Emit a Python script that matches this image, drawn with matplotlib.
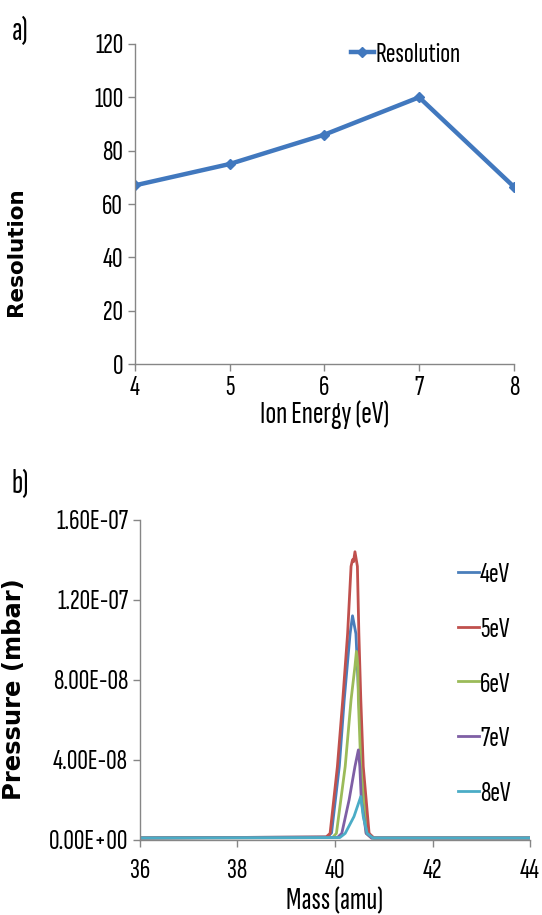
import matplotlib
matplotlib.use("Agg")
import matplotlib.pyplot as plt
from matplotlib.ticker import FuncFormatter

plt.rcParams['font.family'] = ['Sofia Sans Extra Condensed', 'DejaVu Sans']
plt.rcParams['font.weight'] = 'medium'

# panel a
energy = [4, 5, 6, 7, 8]
resolution = [67, 75, 86, 100, 66.5]

# panel b, values (pressure in units of 1e-8 mbar)
mass_4 = [36.0, 39.85, 39.93, 40.09, 40.19, 40.31, 40.36, 40.43, 40.49, 40.56, 40.66, 40.75, 44.0]
p_4 = [0.1, 0.15, 0.35, 3.7, 7.0, 10.3, 11.2, 10.3, 7.0, 3.7, 0.5, 0.1, 0.1]
mass_5 = [36.0, 39.82, 39.90, 40.05, 40.16, 40.26, 40.33, 40.36, 40.38, 40.41, 40.46, 40.49, 40.53, 40.58, 40.70, 40.80, 44.0]
p_5 = [0.1, 0.15, 0.33, 3.67, 7.0, 10.33, 13.67, 14.0, 13.9, 14.4, 13.67, 10.33, 7.0, 3.67, 0.33, 0.1, 0.1]
mass_6 = [36.0, 39.95, 40.03, 40.21, 40.33, 40.41, 40.44, 40.47, 40.48, 40.53, 40.64, 40.75, 44.0]
p_6 = [0.1, 0.12, 0.33, 3.67, 7.0, 8.67, 9.42, 8.67, 7.0, 3.67, 0.33, 0.1, 0.1]
mass_7 = [36.0, 40.05, 40.14, 40.29, 40.41, 40.48, 40.51, 40.54, 40.64, 40.75, 44.0]
p_7 = [0.1, 0.12, 0.33, 2.0, 3.67, 4.5, 3.67, 2.0, 0.33, 0.1, 0.1]
mass_8 = [36.0, 40.10, 40.21, 40.39, 40.53, 40.58, 40.66, 40.78, 44.0]
p_8 = [0.1, 0.12, 0.33, 1.17, 2.17, 1.17, 0.33, 0.1, 0.1]

labels_b = ['4eV', '5eV', '6eV', '7eV', '8eV']
colors_b = ['#4A7EBB', '#C0504D', '#9BBB59', '#7F5FA5', '#4BACC6']
masses = [mass_4, mass_5, mass_6, mass_7, mass_8]
pressures = [p_4, p_5, p_6, p_7, p_8]

grey = '#868686'
fs = 21
fig = plt.figure(figsize=(5.42, 9.15), dpi=100)

# ---- a) ----
ax1 = fig.add_axes([0.249, 0.602, 0.699, 0.350])
ax1.plot(energy, resolution, color='#4178BE', lw=3.2, marker='D', ms=5, label='Resolution')
ax1.set_xlim(4, 8)
ax1.set_ylim(0, 120)
ax1.set_xticks(energy)
ax1.set_yticks(range(0, 121, 20))
ax1.set_xlabel('Ion Energy (eV)', fontsize=23, labelpad=0)
ax1.set_ylabel('Resolution', fontsize=15.5, fontweight='bold', family='DejaVu Sans')
ax1.yaxis.set_label_coords(-0.288, 0.35)
ax1.legend(loc='upper left', bbox_to_anchor=(0.5, 1.09), frameon=False,
           fontsize=fs, handlelength=0.8, handletextpad=0.05)

# ---- b) ----
ax2 = fig.add_axes([0.258, 0.082, 0.720, 0.350])
for m, p, c, lab in zip(masses, pressures, colors_b, labels_b):
    ax2.plot(m, [v * 1e-8 for v in p], color=c, lw=2, label=lab)
ax2.set_xlim(36, 44)
ax2.set_ylim(0, 1.6e-7)
ax2.set_xticks([36, 38, 40, 42, 44])
ax2.set_yticks([0, 4e-8, 8e-8, 1.2e-7, 1.6e-7])
ax2.yaxis.set_major_formatter(FuncFormatter(lambda v, pos: '%.2E' % v))
ax2.set_xlabel('Mass (amu)', fontsize=23, labelpad=3)
ax2.set_ylabel('Pressure (mbar)', fontsize=17.5, fontweight='bold', family='DejaVu Sans')
ax2.yaxis.set_label_coords(-0.292, 0.47)
ax2.legend(loc='upper left', bbox_to_anchor=(0.747, 0.95), frameon=False,
           fontsize=fs, handlelength=0.72, handletextpad=0.05, labelspacing=1.0)

for ax in (ax1, ax2):
    for s in ('top', 'right'):
        ax.spines[s].set_visible(False)
    for s in ('left', 'bottom'):
        ax.spines[s].set_color(grey)
        ax.spines[s].set_linewidth(1)
    ax.tick_params(colors=grey, labelcolor='black', labelsize=fs, length=5, width=1)
ax2.tick_params(axis='x', pad=9)

fig.text(0.022, 0.956, 'a)', fontsize=24)
fig.text(0.022, 0.461, 'b)', fontsize=24)

fig.savefig('out.png', dpi=100)
